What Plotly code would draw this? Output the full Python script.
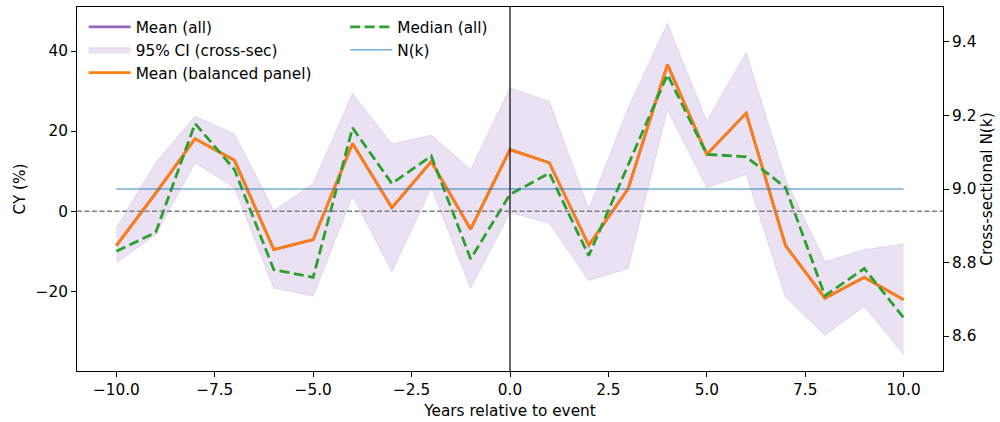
import plotly.graph_objects as go

# ---- data ----
years = [-10, -9, -8, -7, -6, -5, -4, -3, -2, -1, 0, 1, 2, 3, 4, 5, 6, 7, 8, 9, 10]
mean_all = [-8.6, 4.5, 18.1, 12.7, -9.6, -7.1, 16.9, 0.9, 12.4, -4.5, 15.4,
            12.1, -8.5, 5.6, 36.6, 14.2, 24.5, -8.6, -21.7, -16.5, -22.1]
mean_balanced = [-8.6, 4.5, 18.1, 12.7, -9.6, -7.1, 16.9, 0.9, 12.4, -4.5, 15.4,
                 12.1, -8.5, 5.6, 36.6, 14.2, 24.5, -8.6, -21.7, -16.5, -22.1]
median_all = [-10.0, -5.3, 21.9, 10.4, -14.6, -16.5, 20.8, 6.9, 13.8, -11.9, 4.2,
              9.5, -11.1, 11.5, 34.1, 14.2, 13.6, 5.9, -21.1, -14.3, -26.6]
ci_upper = [-4.1, 12.1, 23.7, 19.3, 0.1, 6.9, 29.4, 16.8, 19.0, 10.4, 30.8,
            27.4, 0.5, 25.8, 46.9, 22.5, 39.6, 8.0, -12.6, -9.6, -8.2]
ci_lower = [-12.9, -5.8, 12.1, 5.9, -19.2, -21.2, 3.8, -15.1, 5.9, -19.2, -0.3,
            -3.0, -17.3, -14.3, 25.4, 5.9, 9.2, -21.5, -31.0, -23.7, -35.8]
n_k = [9, 9, 9, 9, 9, 9, 9, 9, 9, 9, 9, 9, 9, 9, 9, 9, 9, 9, 9, 9, 9]

x_ticks = [-10.0, -7.5, -5.0, -2.5, 0.0, 2.5, 5.0, 7.5, 10.0]
y_ticks = [-20, 0, 20, 40]
y2_ticks = [8.6, 8.8, 9.0, 9.2, 9.4]

FONT = "DejaVu Sans"
FS = 15.3
PURPLE = "#9467bd"
ORANGE = "#ff7f0e"
GREEN = "#2ca02c"
BAND = "rgba(148,103,189,0.2)"
NK_COLOR = "rgba(31,119,180,0.6)"

fig = go.Figure()

# CI band
fig.add_trace(go.Scatter(x=years, y=ci_lower, mode="lines",
                         line=dict(color=BAND, width=1), showlegend=False,
                         hoverinfo="skip"))
fig.add_trace(go.Scatter(x=years, y=ci_upper, mode="lines", fill="tonexty",
                         fillcolor=BAND, line=dict(color=BAND, width=1),
                         name="95% CI (cross-sec)", legend="legend",
                         legendrank=2))
# Mean (all)
fig.add_trace(go.Scatter(x=years, y=mean_all, mode="lines",
                         line=dict(color=PURPLE, width=2.8),
                         name="Mean (all)", legend="legend", legendrank=1))
# Mean (balanced)
fig.add_trace(go.Scatter(x=years, y=mean_balanced, mode="lines",
                         line=dict(color=ORANGE, width=2.8),
                         name="Mean (balanced panel)", legend="legend",
                         legendrank=3))
# Median
fig.add_trace(go.Scatter(x=years, y=median_all, mode="lines",
                         line=dict(color=GREEN, width=2.8, dash="10px,4.5px"),
                         name="Median (all)", legend="legend2", legendrank=1))
# N(k)
fig.add_trace(go.Scatter(x=years, y=n_k, mode="lines", yaxis="y2",
                         line=dict(color=NK_COLOR, width=1.4),
                         name="N(k)", legend="legend2", legendrank=2))

fig.add_shape(type="line", xref="x", yref="paper", x0=0, x1=0, y0=0, y1=1,
              line=dict(color="black", width=1.2), layer="above")
fig.add_shape(type="line", xref="paper", yref="y", x0=0, x1=1, y0=0, y1=0,
              line=dict(color="gray", width=1.4, dash="5px,2.5px"), layer="above")

axis_common = dict(showgrid=False, zeroline=False, showline=True,
                   linecolor="black", linewidth=1.1, ticks="outside",
                   ticklen=5, tickwidth=1.1, tickcolor="black",
                   tickfont=dict(family=FONT, size=FS, color="black"))

legend_common = dict(xanchor="left", yanchor="top",
                     bgcolor="rgba(255,255,255,0)", borderwidth=0,
                     font=dict(family=FONT, size=FS), itemwidth=42,
                     tracegroupgap=0, traceorder="normal")

fig.update_layout(
    width=1000, height=422,
    margin=dict(l=77, r=57, t=6, b=50),
    plot_bgcolor="white", paper_bgcolor="white",
    font=dict(family=FONT, size=FS, color="black"),
    xaxis=dict(range=[-11, 11], tickvals=x_ticks,
               ticktext=[f"{v:.1f}".replace("-", "\u2212") for v in x_ticks],
               mirror=True,
               title=dict(text="Years relative to event", standoff=6,
                          font=dict(family=FONT, size=FS)),
               **axis_common),
    yaxis=dict(range=[-39.9, 51.0], tickvals=y_ticks,
               ticktext=[str(v).replace("-", "\u2212") for v in y_ticks],
               title=dict(text="CY (%)", standoff=6,
                          font=dict(family=FONT, size=FS)),
               **axis_common),
    yaxis2=dict(range=[8.505, 9.495], overlaying="y", side="right",
                tickvals=y2_ticks, ticktext=[f"{v:.1f}" for v in y2_ticks],
                title=dict(text="Cross-sectional N(k)", standoff=5,
                           font=dict(family=FONT, size=FS)),
                **axis_common),
    legend=dict(x=0.0077, y=0.9905, **legend_common),
    legend2=dict(x=0.3097, y=0.9905, **legend_common),
)

fig.write_html("out.html")
